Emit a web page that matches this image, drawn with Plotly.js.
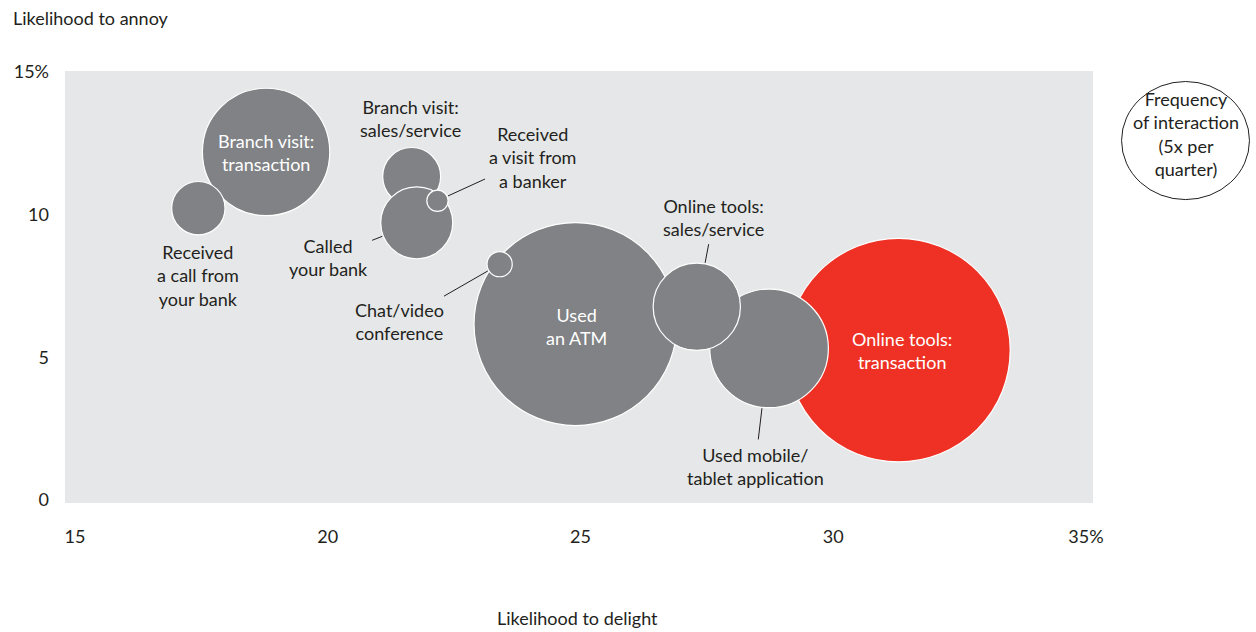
<!DOCTYPE html>
<html><head><meta charset="utf-8">
<script src="https://cdn.plot.ly/plotly-3.0.1.min.js"></script>
<style>html,body{margin:0;padding:0;background:#fff}</style>
</head><body><div id="chart" style="width:1256px;height:632px"></div>
<script>
// ---- data (drawing order: bottom to top) ----
const channels = [
  'Online tools:<br>transaction',
  'Used<br>an ATM',
  'Used mobile/<br>tablet application',
  'Online tools:<br>sales/service',
  'Chat/video<br>conference',
  'Branch visit:<br>transaction',
  'Received<br>a call from<br>your bank',
  'Branch visit:<br>sales/service',
  'Called<br>your bank',
  'Received<br>a visit from<br>a banker'
];
const likelihoodToDelight = [31.29, 24.90, 28.73, 27.30, 23.40, 18.78, 17.44, 21.66, 21.76, 22.17];
const likelihoodToAnnoy   = [5.25, 6.16, 5.31, 6.77, 8.26, 12.19, 10.22, 11.33, 9.71, 10.48];
const frequencyPerQuarter = [16.5, 13.6, 4.65, 2.52, 0.21, 5.36, 0.94, 1.11, 1.71, 0.15];
const highlighted = [true, false, false, false, false, false, false, false, false, false];
const legendFrequency = 5;
const legendText = 'Frequency<br>of interaction<br>(5x per<br>quarter)';
const xTickVals = [15, 20, 25, 30, 35];
const xTickText = ['15', '20', '25', '30', '35%'];
const yTickVals = [0, 5, 10, 15];
const yTickText = ['0', '5', '10', '15%'];

// ---- style ----
const FONT = 'Lato, "Open Sans", sans-serif';
const FS = 18;
const DARK = '#231F20';
const GREY = '#808285';
const RED = '#EE3124';
const BG = '#E6E7E8';
const R_REF = 61.5; // px radius of the legend frequency
function diameter(f) { return 2 * R_REF * Math.sqrt(f / legendFrequency); }

// label placement: mode, and pixel offsets of label centre from bubble centre
const labelStyle = [
  {mode: 'inside', dx: 4, dy: 0},
  {mode: 'inside', dx: 1, dy: 2},
  {mode: 'arrow', dx: -14, dy: 118},
  {mode: 'arrow', dx: 17, dy: -89.5},
  {mode: 'arrow', dx: -100, dy: 57.5},
  {mode: 'inside', dx: 0, dy: 1},
  {mode: 'text', dx: 0, dy: 67.5},
  {mode: 'text', dx: -1.5, dy: -58.5},
  {mode: 'arrow', dx: -88.4, dy: 34.8},
  {mode: 'arrow', dx: 95.3, dy: -43.6}
];

const colors = highlighted.map(h => h ? RED : GREY);
const sizes = frequencyPerQuarter.map(diameter);

const trace = {
  type: 'scatter', mode: 'markers',
  x: likelihoodToDelight, y: likelihoodToAnnoy,
  text: channels, hoverinfo: 'text',
  marker: {size: sizes, sizemode: 'diameter', color: colors, opacity: 1,
           line: {color: '#ffffff', width: 1.2}},
  showlegend: false
};

const annotations = channels.map((t, i) => {
  const s = labelStyle[i];
  const a = {x: likelihoodToDelight[i], y: likelihoodToAnnoy[i], xref: 'x', yref: 'y',
             text: t, font: {family: FONT, size: FS, color: s.mode === 'inside' ? '#ffffff' : DARK},
             align: 'center'};
  if (s.mode === 'arrow') {
    Object.assign(a, {showarrow: true, ax: s.dx, ay: s.dy, axref: 'pixel', ayref: 'pixel',
      arrowhead: 0, arrowwidth: 1, arrowcolor: DARK, standoff: sizes[i] / 2 + 1, startstandoff: 3});
  } else {
    Object.assign(a, {showarrow: false, xshift: s.dx, yshift: -s.dy, xanchor: 'center', yanchor: 'middle'});
  }
  return a;
});

annotations.push(
  {xref: 'paper', yref: 'paper', x: -0.0528, y: 1.1227, xanchor: 'left', yanchor: 'middle',
   text: 'Likelihood to annoy', showarrow: false, font: {family: FONT, size: FS, color: DARK}},
  {xref: 'paper', yref: 'paper', x: 0.499, y: -0.266, xanchor: 'center', yanchor: 'middle',
   text: 'Likelihood to delight', showarrow: false, font: {family: FONT, size: FS, color: DARK}},
  {xref: 'paper', yref: 'paper', x: 1.090, y: 0.854, xanchor: 'center', yanchor: 'middle',
   text: legendText, showarrow: false, align: 'center', font: {family: FONT, size: FS, color: DARK}}
);

const legR = diameter(legendFrequency) / 2;
const layout = {
  width: 1256, height: 632,
  margin: {l: 65, r: 163, t: 71, b: 129},
  paper_bgcolor: '#ffffff', plot_bgcolor: BG,
  font: {family: FONT, size: FS, color: DARK},
  xaxis: {range: [14.802, 35.138], tickvals: xTickVals, ticktext: xTickText,
          showgrid: false, zeroline: false, showline: false, ticks: '', ticklabelstandoff: 21,
          tickfont: {family: FONT, size: FS, color: DARK}, fixedrange: true},
  yaxis: {range: [-0.105, 15.025], tickvals: yTickVals, ticktext: yTickText,
          showgrid: false, zeroline: false, showline: false, ticks: '', ticklabelstandoff: 15,
          tickfont: {family: FONT, size: FS, color: DARK}, fixedrange: true},
  shapes: [{type: 'circle', xref: 'paper', yref: 'paper', xsizemode: 'pixel', ysizemode: 'pixel',
            xanchor: 1.090, yanchor: 0.839, x0: -legR * 1.04, x1: legR * 1.04, y0: -legR * 0.96, y1: legR * 0.96,
            line: {color: DARK, width: 1}, fillcolor: 'rgba(0,0,0,0)'}],
  annotations: annotations
};

Plotly.newPlot('chart', [trace], layout, {displayModeBar: false, staticPlot: true});
</script>
</body></html>
